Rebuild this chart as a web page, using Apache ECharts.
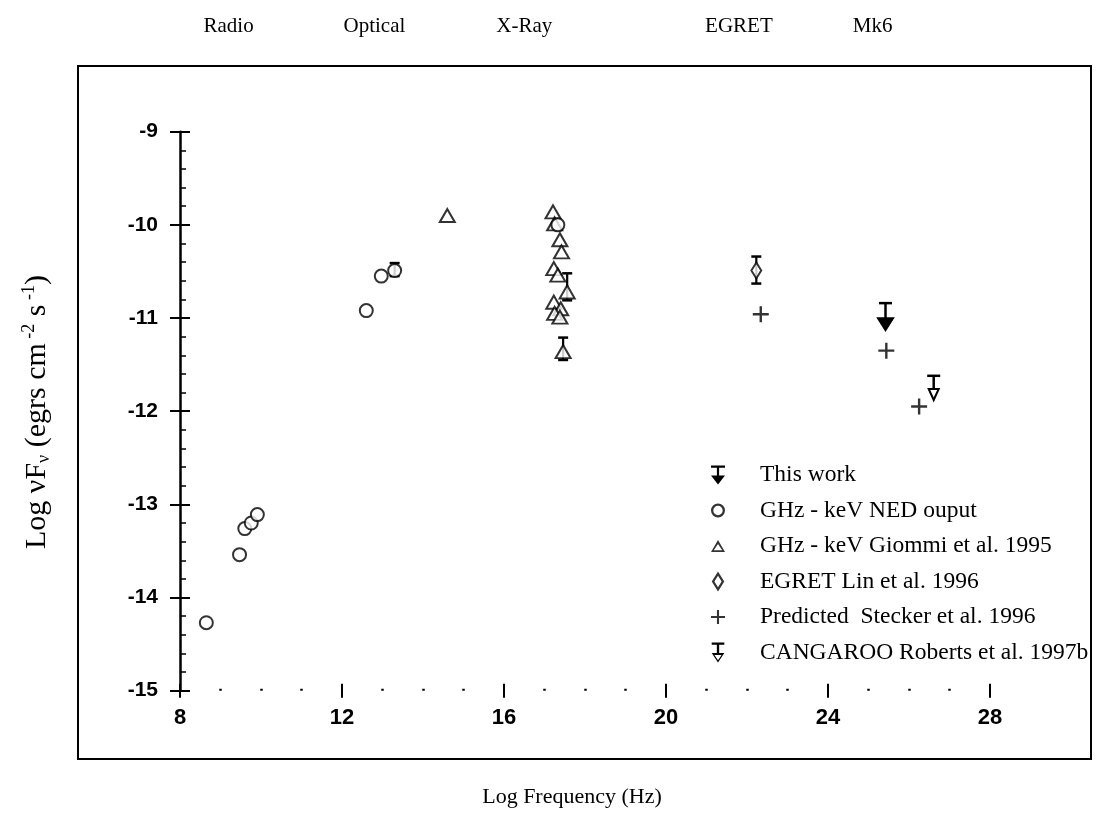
<!DOCTYPE html>
<html><head><meta charset="utf-8">
<script src="https://cdn.jsdelivr.net/npm/echarts@6/dist/echarts.min.js"></script>
<style>html,body{margin:0;padding:0;background:#fff}#c{width:1103px;height:837px}</style>
</head><body><div id="c"></div>
<script>
// ---- data (log frequency, log nuFnu) ----
const xMin = 8, xMax = 28, xStep = 4;
const yMin = -15, yMax = -9, yStep = 1;
const bandLabels = ['Radio', 'Optical', 'X-Ray', 'EGRET', 'Mk6'];
const bandFreq = [9.2, 12.8, 16.5, 21.8, 25.1];

const nedX = [8.65, 9.47, 9.6, 9.76, 9.91, 12.6, 12.97, 13.3, 17.33];
const nedY = [-14.27, -13.54, -13.26, -13.2, -13.11, -10.92, -10.55, -10.49, -10.0];

const giommiX = [14.6, 17.21, 17.25, 17.38, 17.42, 17.23, 17.33, 17.56, 17.23, 17.40, 17.25, 17.38, 17.46];
const giommiY = [-9.90, -9.86, -9.99, -10.16, -10.29, -10.47, -10.54, -10.72, -10.83, -10.90, -10.95, -10.99, -11.36];

const egretX = [22.23];
const egretY = [-10.49];

const predX = [22.34, 25.44, 26.25];
const predY = [-10.96, -11.35, -11.95];

// error bars: x, low, high
const errX = [13.3, 17.56, 17.46, 22.23];
const errLo = [-10.55, -10.81, -11.45, -10.63];
const errHi = [-10.41, -10.52, -11.21, -10.34];

// upper limits: x, bar value, arrow tip
const thisWorkX = [25.42];
const thisWorkTop = [-10.84];
const thisWorkTip = [-11.13];

const cangX = [26.61];
const cangTop = [-11.62];
const cangTip = [-11.88];

// ---- chart ----
const zip = (a, b) => a.map((v, i) => [v, b[i]]);
const zip3 = (a, b, c) => a.map((v, i) => [v, b[i], c[i]]);
const K = '#000';
const tickFont = {fontFamily: 'Liberation Sans', fontWeight: 'bold', color: K};
const serif = 'Liberation Serif';

function limitRender(filled, headW, headH, capW) {
  return function (params, api) {
    const p0 = api.coord([api.value(0), api.value(1)]);
    const p1 = api.coord([api.value(0), api.value(2)]);
    const x = p0[0];
    return {
      type: 'group',
      children: [
        {type: 'line', shape: {x1: x - capW / 2, y1: p0[1], x2: x + capW / 2, y2: p0[1]}, style: {stroke: K, lineWidth: 2.5}},
        {type: 'line', shape: {x1: x, y1: p0[1], x2: x, y2: p1[1] - headH}, style: {stroke: K, lineWidth: 2.5}},
        {type: 'polygon', shape: {points: [[x - headW / 2, p1[1] - headH], [x + headW / 2, p1[1] - headH], [x, p1[1]]]},
          style: {fill: filled ? K : '#fff', stroke: K, lineWidth: 2}}
      ]
    };
  };
}

function errRender(params, api) {
  const lo = api.coord([api.value(0), api.value(1)]);
  const hi = api.coord([api.value(0), api.value(2)]);
  const x = lo[0], w = 10;
  return {
    type: 'group',
    children: [
      {type: 'line', shape: {x1: x, y1: lo[1], x2: x, y2: hi[1]}, style: {stroke: K, lineWidth: 2.2}},
      {type: 'line', shape: {x1: x - w / 2, y1: lo[1], x2: x + w / 2, y2: lo[1]}, style: {stroke: K, lineWidth: 2.5}},
      {type: 'line', shape: {x1: x - w / 2, y1: hi[1], x2: x + w / 2, y2: hi[1]}, style: {stroke: K, lineWidth: 2.5}}
    ]
  };
}

const plusPath = 'path://M6.8,0h2.4v6.8h6.8v2.4h-6.8v6.8h-2.4v-6.8h-6.8v-2.4h6.8z';
const thisWorkIcon = 'path://M0,0h14v2.2h-5.9v7.8h5.9l-7,9l-7,-9h5.9v-7.8h-5.9z';
const cangIcon = 'path://M1,0h12v2.2h-4.9v7.8h4.9l-6,9l-6,-9h4.9v-7.8h-4.9z M3.6,11.8l3.4,5.1l3.4,-5.1z';
const ringIcon = 'path://M7,0A7,7 0 1 0 7.01,0Z M7,2.3A4.7,4.7 0 1 1 6.99,2.3Z';
const triIcon = 'path://M7,0L14,12L0,12Z M7,3.9L2.8,10.2L11.2,10.2Z';
const diaIcon = 'path://M5,0L10,8L5,16L0,8Z M5,3.4L2.1,8L5,12.6L7.9,8Z';

const chart = echarts.init(document.getElementById('c'), null, {renderer: 'canvas'});
const gridL = 180, gridT = 131.7, gridW = 810, gridH = 559;

const option = {
  backgroundColor: '#fff',
  animation: false,
  grid: {left: gridL, top: gridT, width: gridW, height: gridH, containLabel: false},
  xAxis: [
    {type: 'value', min: xMin, max: xMax, interval: xStep, position: 'bottom',
      axisLine: {show: false}, splitLine: {show: false},
      axisTick: {show: true, length: 7, lineStyle: {color: K, width: 2}},
      axisLabel: Object.assign({fontSize: 22, margin: 16}, tickFont)},
    {type: 'value', min: xMin, max: xMax, interval: xStep, position: 'bottom',
      axisLine: {show: false}, splitLine: {show: false}, axisLabel: {show: false},
      axisTick: {show: true, inside: true, length: 7, lineStyle: {color: K, width: 2}},
      minorTick: {show: true, splitNumber: 4, length: 2, lineStyle: {color: K, width: 2.5}}}
  ],
  yAxis: [
    {type: 'value', min: yMin, max: yMax, interval: yStep, position: 'left',
      axisLine: {show: true, onZero: false, lineStyle: {color: K, width: 2.5}}, splitLine: {show: false},
      axisTick: {show: true, length: 10, lineStyle: {color: K, width: 2}},
      axisLabel: Object.assign({fontSize: 21, margin: 22}, tickFont)},
    {type: 'value', min: yMin, max: yMax, interval: yStep, position: 'left',
      axisLine: {show: false}, splitLine: {show: false}, axisLabel: {show: false},
      axisTick: {show: true, inside: true, length: 10, lineStyle: {color: K, width: 2}},
      minorTick: {show: true, splitNumber: 5, length: 6, lineStyle: {color: K, width: 1.5}}}
  ],
  legend: {
    orient: 'vertical', left: 706, top: 458, itemGap: 11.5, itemWidth: 14, itemHeight: 20,
    itemStyle: {color: K, borderWidth: 0},
    formatter: '{t|{name}}',
    textStyle: {fontFamily: serif, fontSize: 23.5, color: K, rich: {t: {fontFamily: serif, fontSize: 23.5, padding: [0, 0, 0, 30]}}},
    data: [
      {name: 'This work', icon: thisWorkIcon},
      {name: 'GHz - keV NED ouput', icon: ringIcon},
      {name: 'GHz - keV Giommi et al. 1995', icon: triIcon},
      {name: 'EGRET Lin et al. 1996', icon: diaIcon},
      {name: 'Predicted  Stecker et al. 1996', icon: plusPath},
      {name: 'CANGAROO Roberts et al. 1997b', icon: cangIcon}
    ]
  },
  graphic: [
    {type: 'rect', shape: {x: 78, y: 66, width: 1013, height: 693}, style: {fill: 'none', stroke: K, lineWidth: 2}, silent: true},
    {type: 'text', x: 37, y: 412, rotation: Math.PI / 2, style: {
      text: '{a|Log }{a|νF}{s|ν}{a| (egrs cm}{p| -2}{a| s}{p| -1}{a|)}',
      align: 'center', verticalAlign: 'middle',
      rich: {
        a: {fontFamily: serif, fontSize: 30, fill: K},
        s: {fontFamily: serif, fontSize: 18, fill: K, padding: [15, 0, 0, 0]},
        p: {fontFamily: serif, fontSize: 18, fill: K, padding: [0, 0, 15, 0]}
      }}},
    {type: 'text', x: 572, y: 797, style: {text: 'Log Frequency (Hz)', font: '22px "Liberation Serif"', fill: K, align: 'center', verticalAlign: 'middle'}}
  ].concat(bandLabels.map((t, i) => ({
    type: 'text', x: gridL + (bandFreq[i] - xMin) / (xMax - xMin) * gridW, y: 26,
    style: {text: t, font: '21px "Liberation Serif"', fill: K, align: 'center', verticalAlign: 'middle'}
  }))),
  series: [
    {name: 'This work', type: 'custom', renderItem: limitRender(true, 15, 12, 13),
      itemStyle: {color: K}, data: zip3(thisWorkX, thisWorkTop, thisWorkTip), z: 5},
    {name: 'GHz - keV NED ouput', type: 'scatter', symbol: 'emptyCircle', symbolSize: 13,
      itemStyle: {color: K, borderColor: K, borderWidth: 2.4}, data: zip(nedX, nedY), z: 4},
    {name: 'GHz - keV Giommi et al. 1995', type: 'scatter', symbol: 'emptyTriangle', symbolSize: [15, 13],
      itemStyle: {color: K, borderColor: K, borderWidth: 2.4}, data: zip(giommiX, giommiY), z: 3},
    {name: 'EGRET Lin et al. 1996', type: 'scatter', symbol: 'emptyDiamond', symbolSize: [10, 16],
      itemStyle: {color: K, borderColor: K, borderWidth: 2.2}, data: zip(egretX, egretY), z: 4},
    {name: 'Predicted  Stecker et al. 1996', type: 'scatter', symbol: plusPath, symbolSize: 16,
      itemStyle: {color: K}, data: zip(predX, predY), z: 4},
    {name: 'CANGAROO Roberts et al. 1997b', type: 'custom', renderItem: limitRender(false, 10, 11, 13),
      itemStyle: {color: K}, data: zip3(cangX, cangTop, cangTip), z: 5},
    {name: 'errors', type: 'custom', renderItem: errRender, itemStyle: {color: K},
      data: zip3(errX, errLo, errHi), z: 2}
  ]
};
chart.setOption(option);
</script></body></html>
